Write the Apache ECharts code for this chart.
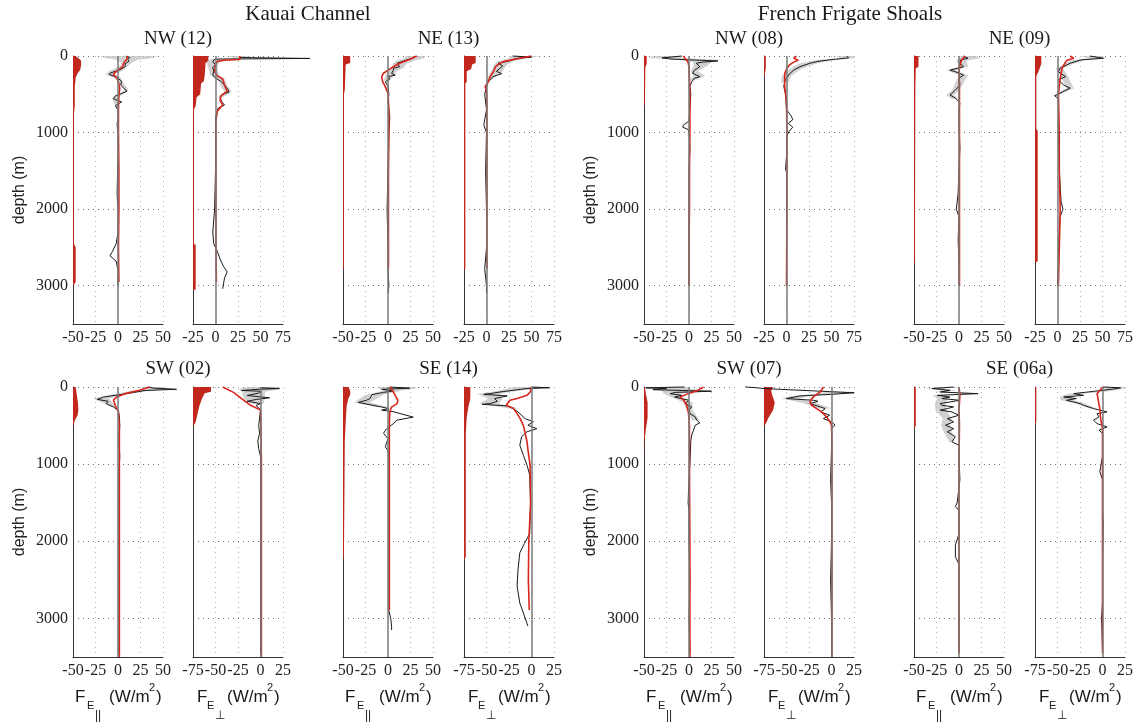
<!DOCTYPE html>
<html><head><meta charset="utf-8">
<script src="https://cdn.jsdelivr.net/npm/echarts@6/dist/echarts.min.js"></script>
<style>html,body{margin:0;padding:0;background:#fff}#c{width:1135px;height:723px}</style>
</head><body><div id="c"></div>
<script>
// ---------- tick labels ----------
const parTicks = [-50, -25, 0, 25, 50];
const perpTicksTop = [-25, 0, 25, 50, 75];
const perpTicksBottom = [-75, -50, -25, 0, 25];
const depthTicks = [0, 1000, 2000, 3000];
const depthMax = 3500;

// ---------- Kauai Channel NW (12) ----------
const kcNW_par_obs = [[0,9],[20,13],[45,11],[70,12],[100,8],[140,8],[180,2],[220,-8],[240,-10],[270,-3],[290,0],[330,4],[380,3],[415,6],[460,10],[490,4],[520,-3],[560,-5],[600,4],[650,-3],[700,0],[800,0],[900,-1],[1000,0],[1300,0],[1800,-1],[2000,0],[2300,0],[2450,-2],[2550,-6],[2610,-9],[2680,-2],[2800,0],[3000,0]];
const kcNW_par_model = [[0,10],[40,10],[80,7],[140,5],[200,-2],[240,-5],[290,-1],[360,1],[420,2],[500,1],[700,0.5],[1000,0.5],[1500,1],[2000,1],[2500,0.5],[2950,1]];
const kcNW_par_strat = [[0,3],[30,6],[60,9],[120,9],[180,8],[230,5],[280,3],[400,2],[650,2],[750,1],[2450,1],[2500,3],[2950,3],[3000,0]];
const kcNW_par_band = [[0,-20,43],[25,-15,40],[50,-2,22],[80,3,16],[120,4,12],[200,-10,4],[240,-14,-6],[280,-5,3],[350,2,6],[450,7,12],[550,-7,-1],[700,-1,1]];
const kcNW_perp_obs = [[0,27],[20,27],[32,105],[40,0],[50,-2],[80,-3],[110,0],[150,-3],[200,-2],[250,-3],[290,0],[330,6],[380,10],[440,14],[470,15],[500,8],[540,5],[600,7],[640,10],[680,3],[720,2],[800,0],[1000,0],[1500,0],[2000,-1],[2300,-3],[2450,-2],[2550,2],[2650,5],[2750,9],[2820,13],[2900,10],[3040,8]];
const kcNW_perp_model = [[0,27],[45,27],[55,10],[70,2],[120,0],[200,-1],[260,2],[300,8],[380,10],[460,13],[520,6],[580,5],[640,8],[720,2],[850,0.5],[1500,0.5],[2500,0.5],[2950,1]];
const kcNW_perp_strat = [[0,17],[60,17],[90,14],[250,13],[330,12],[360,9],[500,8],[540,4],[650,3],[700,1],[2450,1],[2470,3],[3050,3],[3060,0]];
const kcNW_perp_band = [[0,15,40],[30,20,35],[50,-14,5],[80,-10,4],[150,-8,2],[250,-6,4],[300,3,10],[400,6,14],[470,10,18],[540,2,8]];

// ---------- Kauai Channel NE (13) ----------
const kcNE_par_obs = [[0,30],[30,28],[50,21],[95,10],[140,13],[160,6],[185,6],[225,4],[250,8],[270,0],[300,2],[335,-3],[400,0],[500,1],[600,0],[800,2],[1000,1],[1500,0],[2000,-1],[2500,0],[2800,0],[3000,1],[3100,0]];
const kcNE_par_model = [[0,32],[50,23],[95,13],[140,6],[185,0],[225,-5],[270,-7],[335,-6],[400,-3],[490,0],[700,1],[1000,1],[1500,0.5],[2000,0.5],[2500,0.5],[2780,0.5]];
const kcNE_par_strat = [[0,8],[90,8],[110,3],[440,2],[500,1],[2780,1],[2790,0]];
const kcNE_par_band = [[0,20,42],[30,18,40],[60,10,30],[100,5,20],[150,5,18],[200,0,10],[260,-3,6],[320,-5,2]];
const kcNE_perp_obs = [[0,29],[15,50],[30,34],[70,23],[95,13],[130,18],[160,15],[200,11],[230,17],[270,7],[335,2],[400,0],[500,-2],[700,0],[900,-3],[1000,0],[1500,-1],[2000,0],[2500,0],[2780,-2],[3000,0],[3100,0]];
const kcNE_perp_model = [[0,50],[30,37],[70,20],[95,15],[140,10],[200,8],[270,4],[335,2],[400,-1.5],[460,0],[700,0.5],[1500,0.5],[2780,0.5]];
const kcNE_perp_strat = [[0,13],[90,13],[110,9],[170,8],[200,3],[340,3],[360,1.5],[2780,1.5],[2790,0]];
const kcNE_perp_band = [[0,25,60],[30,25,45],[70,12,30],[120,8,22],[200,5,18],[270,2,10],[330,0,4]];

// ---------- French Frigate Shoals NW (08) ----------
const ffNW_par_obs = [[0,-8],[25,-30],[40,-20],[65,32],[80,15],[95,8],[140,12],[185,6],[225,4],[270,12],[290,6],[335,3],[400,1],[500,2],[700,1],[850,0],[900,-6],[930,-7],[960,-1],[1000,0],[1200,1],[1500,0],[2000,0],[2500,0],[2700,0],[3000,0]];
const ffNW_par_model = [[0,-6],[40,-4],[80,-1],[150,0],[300,0.5],[500,1],[1000,1],[1500,0.5],[2000,0.5],[2500,0],[3000,0]];
const ffNW_par_strat = [[0,3],[100,3],[150,1.5],[600,1],[700,0]];
const ffNW_par_band = [[0,-40,-5],[25,-45,-10],[50,-10,35],[80,5,25],[130,5,20],[200,2,10],[260,5,18],[320,0,6]];
const ffNW_perp_obs = [[0,67],[25,69],[50,48],[70,35],[95,26],[140,15],[185,8],[225,4],[290,0],[330,-2],[400,-3],[500,-1],[700,0],[780,5],[830,7],[880,2],[930,7],[980,3],[1050,0],[1300,0],[1480,-1],[1520,0],[2000,0],[2500,0],[3000,0]];
const ffNW_perp_model = [[0,11],[30,8],[55,13],[80,8],[120,3],[170,0],[230,-2],[400,-2],[600,0],[1000,0.5],[2000,0.5],[3000,0]];
const ffNW_perp_strat = [[0,2],[150,2],[240,1],[300,0]];
const ffNW_perp_band = [[0,55,76],[30,60,76],[50,35,55],[95,15,35],[140,8,22],[185,2,14],[260,-5,5],[350,-6,2]];

// ---------- French Frigate Shoals NE (09) ----------
const ffNE_par_obs = [[0,5],[30,10],[50,2],[95,1],[140,5],[185,-10],[205,-4],[250,5],[290,0],[380,1],[445,-4],[510,-10],[550,-4],[615,1],[700,0],[900,0],[1200,1],[1500,0],[1800,-1],[2000,-3],[2100,0],[2400,-1],[2700,0],[3000,0]];
const ffNE_par_model = [[0,6.6],[50,3],[120,1],[200,0],[400,0.5],[1000,0.5],[2000,0.5],[3000,0.5]];
const ffNE_par_strat = [[0,5],[140,5],[160,2],[400,1.5],[2700,1],[2710,0]];
const ffNE_par_band = [[0,-2,20],[30,0,24],[60,-3,8],[140,0,10],[185,-14,-4],[250,0,10],[450,-8,0],[510,-14,-6],[560,-8,0]];
const ffNE_perp_obs = [[0,36],[30,51],[50,26],[95,14],[160,3],[205,1],[270,9],[310,1],[380,7],[420,14],[460,7],[520,-3],[560,1],[700,1],[1000,1],[1500,2],[1900,4],[2000,6],[2100,3],[2500,1],[2700,1],[3000,0]];
const ffNE_perp_model = [[0,14],[30,18],[60,10],[160,5],[300,3],[500,1],[1000,2],[1500,2],[2000,3],[2500,2],[3000,1]];
const ffNE_perp_strat = [[0,7],[100,7],[200,4],[260,1.5],[950,1.5],[980,3],[2680,3],[2700,0]];
const ffNE_perp_band = [[0,25,48],[30,35,55],[60,15,30],[100,8,18],[160,-2,6],[270,4,12],[420,10,18],[520,-6,0]];

// ---------- Kauai Channel SW (02) ----------
const kcSW_par_obs = [[0,33],[15,40],[30,65],[45,30],[86,10],[130,-16],[160,-23],[185,-11],[215,-13],[260,-5],[300,0],[370,1.5],[500,2],[700,1],[900,2],[1100,1],[1500,1],[2000,1],[2500,1],[3000,1],[3450,1]];
const kcSW_par_model = [[0,35],[43,24],[86,8],[130,-1.5],[170,-5],[240,-3],[320,0.5],[500,1.5],[1000,1.5],[2000,1.5],[3000,1.5],[3500,1.5]];
const kcSW_par_strat = [[0,3],[80,4],[200,5.5],[300,6],[370,5],[430,2],[520,0]];
const kcSW_par_band = [[0,25,48],[30,35,65],[50,15,35],[100,-8,5],[150,-28,-10],[200,-18,-6],[260,-8,-2]];
const kcSW_perp_obs = [[0,0],[10,0],[20,21],[30,-2],[45,-21],[55,0],[80,-2],[110,-15],[140,10],[160,-4],[185,-15],[215,0],[240,-5],[280,-1],[300,0],[500,-2],[600,-1],[700,-3],[800,-2],[900,0],[1200,0],[2000,0],[3000,0],[3450,0]];
const kcSW_perp_model = [[0,-42],[70,-30],[150,-21],[237,-11],[300,0],[500,0.5],[1000,1],[2000,1],[3000,1],[3500,1]];
const kcSW_perp_strat = [[0,20],[60,20],[80,13],[150,10],[250,7],[350,5],[450,3],[520,0]];
const kcSW_perp_band = [[0,-15,20],[30,-25,22],[60,-20,5],[110,-20,5],[160,-18,5],[220,-8,3]];

// ---------- Kauai Channel SE (14) ----------
const kcSE_par_obs = [[0,2],[15,24],[30,-7],[50,6],[70,-5],[100,-18],[150,-20],[172,-24],[200,-33],[230,-20],[260,-7],[280,1],[300,-7],[320,6],[365,20],[390,28],[430,10],[475,6],[540,-1.5],[600,-5],[670,0],[775,-3],[840,1],[1000,1],[1500,1],[2000,1],[2500,1],[2900,1],[3000,3],[3100,4],[3150,4]];
const kcSE_par_model = [[0,2],[65,6],[108,8],[172,11],[215,10],[260,4],[320,2],[500,1.5],[1000,1.5],[2000,1.5],[2890,1.5]];
const kcSE_par_strat = [[0,6],[50,8],[100,8],[150,6],[250,4],[450,3],[700,2],[1500,1.5],[2200,1],[2250,0]];
const kcSE_par_band = [[0,-10,30],[20,-10,32],[50,-5,15],[100,-25,-5],[200,-38,-20],[260,-12,0]];
const kcSE_perp_obs = [[0,0],[10,20],[20,-5],[30,-12],[65,-35],[86,-46],[95,-53],[116,-27],[150,-41],[185,-38],[215,-46],[225,-55],[245,-27],[280,-20],[323,-15],[410,-7],[450,2],[496,-4],[540,6],[580,-5],[645,-11],[755,-13],[885,-9],[1013,-5],[1140,-2],[1500,-1],[1900,-2],[2030,-8],[2150,-13],[2370,-15],[2580,-16],[2800,-13],[2930,-9],[3100,-4]];
const kcSE_perp_model = [[0,0],[65,-1.5],[108,-5],[150,-16],[172,-24],[195,-26],[237,-28],[280,-20],[345,-16],[410,-12.6],[500,-9],[600,-7],[710,-5],[840,-3.6],[1010,-1.6],[1500,-1],[2000,-3],[2500,-3.5],[2890,-2.5]];
const kcSE_perp_strat = [[0,7],[150,7],[250,5],[400,3],[600,2],[2200,2],[2250,0]];
const kcSE_perp_band = [[0,-20,22],[30,-30,0],[65,-45,-25],[90,-60,-35],[150,-48,-32],[215,-58,-36],[280,-25,-14]];

// ---------- French Frigate Shoals SW (07) ----------
const ffSW_par_obs = [[0,-5],[10,-48],[20,-25],[35,-40],[55,25],[70,-15],[86,-21],[108,-8],[130,-16],[172,0],[215,-4],[258,3],[300,0],[345,1],[388,7],[430,8.5],[465,12],[495,7],[560,5],[625,3],[700,2],[1000,1],[1200,0],[1500,-1],[1600,0],[2000,0],[2500,1],[3000,0],[3450,1]];
const ffSW_par_model = [[0,16],[43,10],[86,-1],[130,-10],[172,-6],[237,-2.6],[320,-0.7],[500,0.5],[1000,0.5],[2000,1],[3000,1],[3500,1]];
const ffSW_par_strat = [[0,1],[80,2],[200,4],[400,4],[550,2],[700,0.5],[1000,0]];
const ffSW_par_band = [[0,-50,0],[20,-50,0],[50,-30,25],[86,-28,-10],[130,-20,-8],[200,-6,4],[300,-3,4],[430,3,12]];
const ffSW_perp_obs = [[0,-96],[8,-85],[20,-75],[75,25],[95,0],[116,-35],[150,-50],[172,-20],[185,-15],[215,-24],[258,-12.6],[280,-7],[323,-12],[366,-2],[410,-9],[452,0],[495,4],[540,0],[800,0],[1200,-1],[1500,0],[2000,0],[2500,-1],[3000,0],[3450,0]];
const ffSW_perp_model = [[0,-9],[65,-12.6],[108,-18],[150,-22],[194,-24],[237,-22],[280,-16.6],[323,-11],[388,-5.5],[452,-1.6],[495,0],[700,0.5],[1500,0.5],[2500,0.5],[3500,0.5]];
const ffSW_perp_strat = [[0,10],[50,8],[100,9],[200,12],[300,10],[400,5],[500,1],[520,0]];
const ffSW_perp_band = [[60,-5,25],[90,-20,5],[116,-45,-25],[150,-55,-35],[215,-30,-15],[280,-15,0]];

// ---------- French Frigate Shoals SE (06a) ----------
const ffSE_par_obs = [[0,-6],[20,-30],[43,-10],[65,-21],[86,21],[108,-24],[130,-10],[150,-19],[172,1],[194,-10],[215,-21],[237,-19],[258,-6],[280,-13],[300,-21],[323,-8],[366,0],[410,-13],[452,-6],[495,-15],[540,-6],[580,-13],[645,-4],[710,-8],[755,0],[900,0],[1200,1],[1500,-2],[1550,-4],[1600,0],[1900,0],[2050,-4],[2200,-4],[2300,0],[2600,0],[3000,0],[3400,0]];
const ffSE_par_model = [[0,0],[108,1],[280,0],[500,0.5],[1000,0],[2000,0],[3000,0],[3450,0]];
const ffSE_par_strat = [[0,2],[500,2],[550,0]];
const ffSE_par_band = [[0,-20,4],[20,-38,-20],[43,-16,-4],[65,-28,-14],[86,10,28],[108,-30,-16],[150,-24,-12],[215,-27,-15],[300,-26,-14],[410,-18,-8],[495,-20,-10],[580,-17,-8],[710,-11,-5]];
const ffSE_perp_obs = [[0,0],[10,20],[20,16],[43,0],[86,-32],[108,-21],[130,-43],[150,-29],[172,-40],[194,-32],[215,-25],[237,-21],[280,-10],[323,5],[345,-6],[388,-4],[430,-10],[475,-6],[517,5],[560,-4],[600,0],[900,0],[1100,-3],[1200,0],[1600,0],[1800,1],[2200,0],[2800,0],[3000,-1],[3400,0]];
const ffSE_perp_model = [[0,1],[43,-3],[86,-6],[194,-4.4],[280,-3],[410,-2],[540,0],[1000,0],[2000,0],[3000,0],[3450,0]];
const ffSE_perp_strat = [[0,1.5],[450,1.5],[500,0]];
const ffSE_perp_band = [[0,-6,24],[20,4,26],[60,-8,4],[86,-38,-24],[130,-48,-34],[172,-46,-32],[215,-30,-20],[280,-14,-6]];

const groupTitles = ['Kauai Channel', 'French Frigate Shoals'];
const panelTitles = [['NW (12)', 'NE (13)', 'NW (08)', 'NE (09)'], ['SW (02)', 'SE (14)', 'SW (07)', 'SE (06a)']];

// ---------- layout ----------
const COL_LEFT = [73, 193, 343, 464, 644, 764, 914, 1035];
const ROW_TOP = [56, 387];
const ROW_H = [268, 270];
const PW = 90;

const panels = [
  [kcNW_par_obs, kcNW_par_model, kcNW_par_strat, kcNW_par_band],
  [kcNW_perp_obs, kcNW_perp_model, kcNW_perp_strat, kcNW_perp_band],
  [kcNE_par_obs, kcNE_par_model, kcNE_par_strat, kcNE_par_band],
  [kcNE_perp_obs, kcNE_perp_model, kcNE_perp_strat, kcNE_perp_band],
  [ffNW_par_obs, ffNW_par_model, ffNW_par_strat, ffNW_par_band],
  [ffNW_perp_obs, ffNW_perp_model, ffNW_perp_strat, ffNW_perp_band],
  [ffNE_par_obs, ffNE_par_model, ffNE_par_strat, ffNE_par_band],
  [ffNE_perp_obs, ffNE_perp_model, ffNE_perp_strat, ffNE_perp_band],
  [kcSW_par_obs, kcSW_par_model, kcSW_par_strat, kcSW_par_band],
  [kcSW_perp_obs, kcSW_perp_model, kcSW_perp_strat, kcSW_perp_band],
  [kcSE_par_obs, kcSE_par_model, kcSE_par_strat, kcSE_par_band],
  [kcSE_perp_obs, kcSE_perp_model, kcSE_perp_strat, kcSE_perp_band],
  [ffSW_par_obs, ffSW_par_model, ffSW_par_strat, ffSW_par_band],
  [ffSW_perp_obs, ffSW_perp_model, ffSW_perp_strat, ffSW_perp_band],
  [ffSE_par_obs, ffSE_par_model, ffSE_par_strat, ffSE_par_band],
  [ffSE_perp_obs, ffSE_perp_model, ffSE_perp_strat, ffSE_perp_band]
];

const SERIF = '"Liberation Serif", "DejaVu Serif", serif';
const SANS = '"Liberation Sans", Arial, sans-serif';
const RED_FILL = '#c1271d';
const RED_LINE = '#d8261c';
const GRAY_BAND = 'rgba(190,190,190,0.7)';

const grids = [], xAxes = [], yAxes = [], series = [];

function polySeries(i, pts, style, z, closed) {
  return {
    type: 'custom', xAxisIndex: i, yAxisIndex: i, z: z, silent: true, clip: false, data: [[0, 0]],
    renderItem: (params, api) => ({
      type: closed ? 'polygon' : 'polyline',
      shape: { points: pts.map(pt => api.coord(pt)) },
      style: style
    })
  };
}

panels.forEach((p, i) => {
  const row = Math.floor(i / 8), col = i % 8;
  const isPar = col % 2 === 0;
  const ticks = isPar ? parTicks : (row === 0 ? perpTicksTop : perpTicksBottom);
  const xmin = ticks[0], xmax = ticks[ticks.length - 1];
  const [obs, model, strat, band] = p;

  grids.push({ left: COL_LEFT[col], top: ROW_TOP[row], width: PW, height: ROW_H[row], outerBoundsMode: 'none', containLabel: false });
  xAxes.push({
    type: 'value', gridIndex: i, min: xmin, max: xmax, interval: ticks[1] - ticks[0], position: 'bottom',
    axisLine: { show: true, onZero: false, lineStyle: { color: '#333', width: 1 } },
    axisTick: { show: false },
    axisLabel: { show: true, fontFamily: SERIF, fontSize: 16, color: '#222', margin: 6, hideOverlap: false },
    splitLine: { show: true, lineStyle: { type: [1, 4], color: '#b0b0b0', width: 1 } }
  });
  const showY = col === 0 || col === 4;
  yAxes.push({
    type: 'value', gridIndex: i, inverse: true, min: depthTicks[0], max: depthMax, interval: depthTicks[1] - depthTicks[0],
    axisLine: { show: true, onZero: false, lineStyle: { color: '#333', width: 1 } },
    axisTick: { show: false },
    axisLabel: { show: showY, showMaxLabel: false, fontFamily: SERIF, fontSize: 16, color: '#222', margin: 5,
      formatter: v => String(v) },
    splitLine: { show: true, lineStyle: { type: [1, 4], color: '#707070', width: 1 } },
    name: showY ? 'depth (m)' : '', nameLocation: 'middle', nameGap: 45, nameRotate: 90,
    nameTextStyle: { fontFamily: SANS, fontSize: 16, color: '#222' }
  });

  // gray uncertainty band
  const bandPts = band.map(b => [b[1], b[0]]).concat(band.slice().reverse().map(b => [b[2], b[0]]));
  series.push(polySeries(i, bandPts, { fill: GRAY_BAND }, 1, true));
  // red filled profile along left axis
  const stratPts = strat.map(s => [xmin + s[1], s[0]]).concat([[xmin, strat[strat.length - 1][0]], [xmin, strat[0][0]]]);
  series.push(polySeries(i, stratPts, { fill: RED_FILL }, 2, true));
  // zero reference line
  series.push({
    type: 'line', xAxisIndex: i, yAxisIndex: i, z: 2, silent: true, data: [], showSymbol: false,
    markLine: { silent: true, symbol: ['none', 'none'], label: { show: false }, animation: false,
      lineStyle: { color: '#7a7a7a', width: 1.5, type: 'solid' }, data: [{ xAxis: 0 }] }
  });
  // observed (black), not clipped so that strong spikes run past the frame
  series.push(polySeries(i, obs.map(o => [o[1], o[0]]), { stroke: '#1a1a1a', lineWidth: 1, fill: null }, 3, false));
  // model (red)
  series.push({
    type: 'line', xAxisIndex: i, yAxisIndex: i, z: 4, silent: true, clip: false, showSymbol: false, symbol: 'none',
    data: model.map(m => [m[1], m[0]]), lineStyle: { color: RED_LINE, width: 1.6 }
  });
});

// ---------- texts ----------
const g = [];
function txt(text, x, y, font, align, vAlign) {
  g.push({ type: 'text', x: x, y: y, silent: true,
    style: { text: text, font: font, fill: '#1a1a1a', align: align || 'center', textAlign: align || 'center',
      verticalAlign: vAlign || 'middle', textVerticalAlign: vAlign || 'middle' } });
}
txt(groupTitles[0], 308, 14, '21px ' + SERIF);
txt(groupTitles[1], 850, 14, '21px ' + SERIF);
[0, 1].forEach(row => {
  [0, 1, 2, 3].forEach(k => {
    const cx = (COL_LEFT[2 * k] + COL_LEFT[2 * k + 1] + PW) / 2;
    txt(panelTitles[row][k], cx, row === 0 ? 39 : 369, '19px ' + SERIF);
  });
});
// bottom axis quantity labels
for (let col = 0; col < 8; col++) {
  const L = COL_LEFT[col];
  const par = col % 2 === 0;
  if (par) {
    txt('F', L + 2, 697, '17px ' + SANS, 'left');
    txt('E', L + 14, 706, '11px ' + SANS, 'left');
    txt('||', L + 22, 716, '12px ' + SANS, 'left');
    txt('(W/m', L + 36, 697, '17px ' + SANS, 'left');
    txt('2', L + 76, 688, '11px ' + SANS, 'left');
    txt(')', L + 83, 697, '17px ' + SANS, 'left');
  } else {
    txt('F', L + 4, 697, '17px ' + SANS, 'left');
    txt('E', L + 14, 706, '11px ' + SANS, 'left');
    txt('\u22A5', L + 22, 716, '12px ' + SANS, 'left');
    txt('(W/m', L + 34, 697, '17px ' + SANS, 'left');
    txt('2', L + 74, 688, '11px ' + SANS, 'left');
    txt(')', L + 81, 697, '17px ' + SANS, 'left');
  }
}

const chart = echarts.init(document.getElementById('c'), null, { renderer: 'canvas' });
chart.setOption({
  backgroundColor: '#ffffff',
  animation: false,
  grid: grids, xAxis: xAxes, yAxis: yAxes, series: series,
  graphic: { elements: g }
});
</script></body></html>
